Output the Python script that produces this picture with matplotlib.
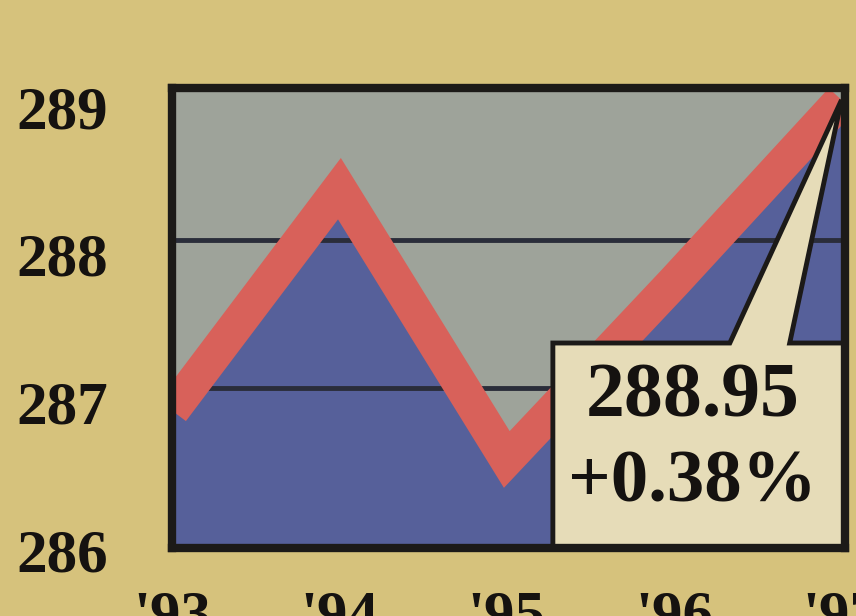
import matplotlib.pyplot as plt
from matplotlib.patches import Polygon
from matplotlib.transforms import ScaledTranslation

# values
x_labels = ["'93", "'94", "'95", "'96", "'97"]
index_values = [286.85, 288.35, 286.52, 287.72, 288.95]
y_ticks = [286, 287, 288, 289]
last_value = "288.95"
last_change = "+0.38%"

paper = "#d6c27c"
plot_gray = "#9ea39a"
fill_blue = "#56609a"
line_red = "#d8615a"
frame = "#1c1a18"
callout = "#e6dcb8"

plt.rcParams["font.family"] = ["Liberation Serif", "DejaVu Serif"]
plt.rcParams["font.weight"] = "bold"

fig = plt.figure(figsize=(8.56, 6.16), dpi=100, facecolor=paper)
ax = fig.add_axes([0.201, 0.110, 0.786, 0.747])
ax.set_facecolor(plot_gray)

x = list(range(len(index_values)))
ax.set_xlim(0, 4.02)
ax.set_ylim(285.92, 289.03)

ax.fill_between(x, index_values, 285.92, color=fill_blue, lw=0, zorder=1)
for g in [287, 288]:
    ax.axhline(g, color="#2a2d3a", lw=3.5, zorder=2)
ax.plot(x, index_values, color=line_red, lw=25, solid_capstyle="butt",
        solid_joinstyle="miter", zorder=3)

# callout box with pointer to the last value
tip = ax.transAxes.inverted().transform(ax.transData.transform((x[-1], index_values[-1])))
box = Polygon([(0.566, 0.0), (0.566, 0.446), (0.829, 0.446), tuple(tip),
               (0.918, 0.446), (1.0, 0.446), (1.0, 0.0)],
              closed=True, transform=ax.transAxes, facecolor=callout,
              edgecolor=frame, lw=3.5, zorder=4, clip_on=False)
ax.add_patch(box)
ax.text(0.774, 0.326, last_value, transform=ax.transAxes, ha="center", va="center",
        fontsize=56, fontweight="bold", color="#151210", zorder=5)
ax.text(0.774, 0.141, last_change, transform=ax.transAxes, ha="center", va="center",
        fontsize=54, fontweight="bold", color="#151210", zorder=5)

for s in ax.spines.values():
    s.set_linewidth(6)
    s.set_color(frame)
    s.set_zorder(6)

ax.set_yticks(y_ticks)
ax.set_yticklabels([str(v) for v in y_ticks], fontsize=44, fontweight="bold", color="#151210")
ax.set_xticks(x)
ax.set_xticklabels(x_labels, fontsize=44, fontweight="bold", color="#151210")
ax.tick_params(axis="y", length=0, pad=46)
ax.tick_params(axis="x", length=0, pad=30)
shift = ScaledTranslation(0, -0.14, fig.dpi_scale_trans)
for lab in ax.get_yticklabels():
    lab.set_transform(lab.get_transform() + shift)

fig.savefig("out.png", dpi=100, facecolor=paper)
